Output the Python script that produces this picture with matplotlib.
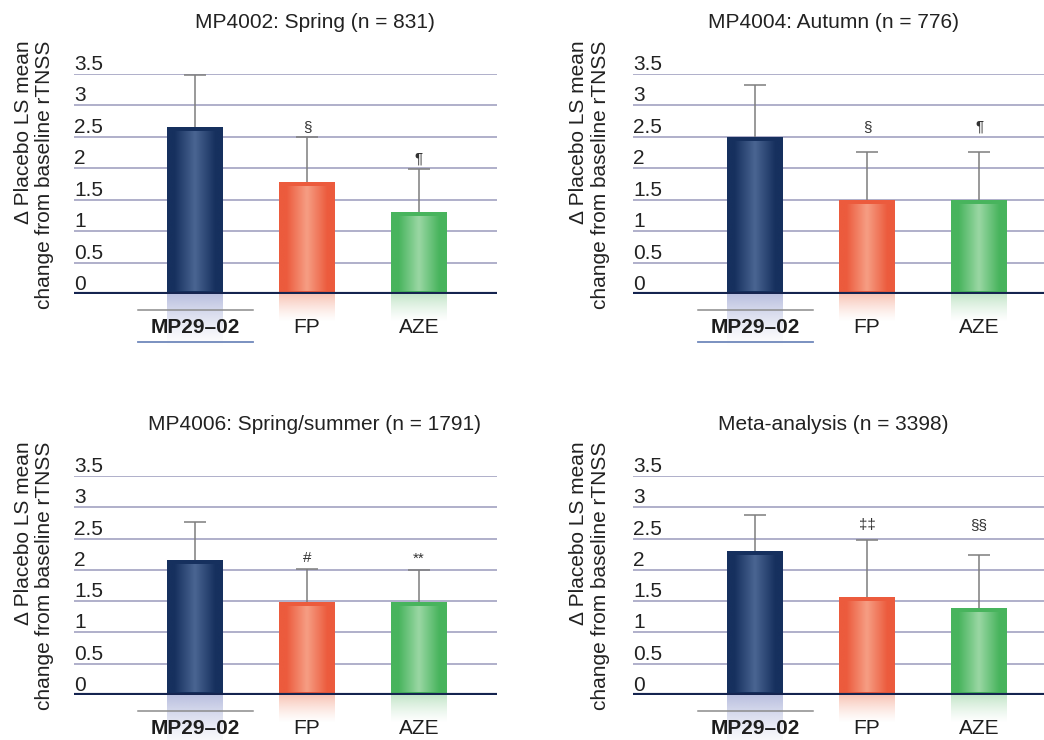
import matplotlib
matplotlib.use("Agg")
import matplotlib.pyplot as plt
import numpy as np
from matplotlib.colors import LinearSegmentedColormap, to_rgb

plt.rcParams["font.family"] = ["Liberation Sans", "DejaVu Sans"]

# data
titles = [
    "MP4002: Spring (n = 831)",
    "MP4004: Autumn (n = 776)",
    "MP4006: Spring/summer (n = 1791)",
    "Meta-analysis (n = 3398)",
]
categories = ["MP29\u201302", "FP", "AZE"]
mp_vals = [2.66, 2.50, 2.15, 2.30]
fp_vals = [1.78, 1.50, 1.49, 1.57]
aze_vals = [1.30, 1.50, 1.49, 1.39]
mp_err_top = [3.48, 3.32, 2.77, 2.88]
fp_err_top = [2.50, 2.26, 2.01, 2.48]
aze_err_top = [1.99, 2.26, 2.00, 2.24]
fp_marks = ["\u00a7", "\u00a7", "#", "\u2021\u2021"]
aze_marks = ["\u00b6", "\u00b6", "**", "\u00a7\u00a7"]
fp_mark_y = [2.66, 2.66, 2.19, 2.72]
aze_mark_y = [2.16, 2.66, 2.17, 2.72]
y_ticks = [0, 0.5, 1, 1.5, 2, 2.5, 3, 3.5]
y_tick_labels = ["0", "0.5", "1", "1.5", "2", "2.5", "3", "3.5"]
ylabel = "\u0394 Placebo LS mean\nchange from baseline rTNSS"

W, H = 1044, 740
# axes boxes in pixels: left, right, y of 0, y of 3.5
BOXES = [(74, 497, 294, 74), (633, 1044, 294, 74), (74, 497, 695, 476), (633, 1044, 695, 476)]
TITLE_X = [315, 833, 315, 833]
YLABEL_POS = [(34, 175), (590, 175), (34, 576), (590, 576)]
FIRST_BAR_PX = [195, 755, 195, 755]
BAR_STEP_PX = 112

BAR_STYLES = [
    ("#16305e", "#4a6592", "#b9bfdf", 0.85),
    ("#ec5b3d", "#f69e84", "#f8c3b4", 0.45),
    ("#48b45d", "#9ad7a4", "#c2e5c8", 0.45),
]
GRID_COLOR = "#a9a9c6"
BASE_COLOR = "#15244f"
ERR_COLOR = "#7d7d7d"
BAR_WIDTH = 0.5


def gradient_bar(ax, x, h, edge, center):
    cmap = LinearSegmentedColormap.from_list("g", [edge, center, edge])
    t = np.linspace(0, 1, 64)
    g = np.clip((t - 0.1) / 0.8, 0, 1)[None, :]
    ax.bar(x, h, BAR_WIDTH, color=edge, zorder=2)
    top = h - 0.08
    if top > 0.05:
        ax.imshow(g, cmap=cmap, extent=[x - BAR_WIDTH / 2 + 0.02, x + BAR_WIDTH / 2 - 0.02, 0.04, top],
                  aspect="auto", zorder=3, interpolation="bicubic")


def reflection(ax, x, color, depth):
    rgb = to_rgb(color)
    n = 50
    img = np.zeros((n, 2, 4))
    img[..., :3] = rgb
    img[..., 3] = np.linspace(1, 0, n)[:, None] ** 1.3
    ax.imshow(img, extent=[x - BAR_WIDTH / 2, x + BAR_WIDTH / 2, -depth, 0],
              aspect="auto", zorder=1, clip_on=False, interpolation="bilinear")


def draw_panel(fig, k):
    left, right, y0, y35 = BOXES[k]
    ax_w, ax_h = right - left, y0 - y35
    ax = fig.add_axes([left / W, 1 - y0 / H, ax_w / W, ax_h / H])
    x_lo = -(FIRST_BAR_PX[k] - left) / BAR_STEP_PX
    x_hi = (right - FIRST_BAR_PX[k]) / BAR_STEP_PX

    vals = np.array([mp_vals[k], fp_vals[k], aze_vals[k]])
    tops = np.array([mp_err_top[k], fp_err_top[k], aze_err_top[k]])
    xs = np.arange(len(categories))

    for yt in y_ticks[1:]:
        ax.axhline(yt, color=GRID_COLOR, lw=1.3, zorder=0)

    for i, (edge, center, refl, depth) in enumerate(BAR_STYLES):
        gradient_bar(ax, xs[i], vals[i], edge, center)
        reflection(ax, xs[i], refl, depth)

    # upper-only error bars
    ax.vlines(xs, vals, tops, color=ERR_COLOR, lw=1.1, zorder=1.5)
    ax.plot(xs, tops, ls="none", marker="_", markersize=16, markeredgewidth=1.1,
            color=ERR_COLOR, zorder=1.5)
    ax.axhline(0, color=BASE_COLOR, lw=3, zorder=6)

    ax.text(xs[1], fp_mark_y[k], fp_marks[k], ha="center", va="center", fontsize=11, color="#333333")
    ax.text(xs[2], aze_mark_y[k], aze_marks[k], ha="center", va="center", fontsize=11, color="#333333")

    for yt, lab in zip(y_ticks, y_tick_labels):
        ax.annotate(lab, xy=(0, yt), xycoords=("axes fraction", "data"), xytext=(0, 4),
                    textcoords="offset pixels", ha="left", va="baseline", fontsize=15, color="#222222")

    for i, lab in enumerate(categories):
        ax.annotate(lab, xy=(xs[i], 0), xycoords=("data", "axes fraction"), xytext=(0, -34),
                    textcoords="offset pixels", ha="center", va="center", fontsize=15,
                    fontweight="bold" if i == 0 else "normal", color="#1e1e1e", annotation_clip=False)

    xt = ax.get_xaxis_transform()
    ax.plot([xs[0] - 0.51, xs[0] + 0.52], [-16 / ax_h] * 2, color="#8c8c8c", lw=1.1,
            transform=xt, clip_on=False)
    ax.plot([xs[0] - 0.51, xs[0] + 0.52], [-48 / ax_h] * 2, color="#7088bb", lw=1.3,
            transform=xt, clip_on=False)

    ax.text((TITLE_X[k] - left) / ax_w, 1 + 51 / ax_h, titles[k], transform=ax.transAxes,
            ha="center", va="center", fontsize=15, color="#222222")
    lx, ly = YLABEL_POS[k]
    ax.text((lx - left) / ax_w, (y0 - ly) / ax_h, ylabel, transform=ax.transAxes,
            rotation=90, ha="center", va="center", multialignment="right", fontsize=15,
            color="#222222", linespacing=1.2)

    ax.set_xlim(x_lo, x_hi)
    ax.set_ylim(0, 3.5)
    ax.set_xticks([])
    ax.set_yticks([])
    for s in ax.spines.values():
        s.set_visible(False)
    ax.patch.set_alpha(0)
    return ax


def main():
    fig = plt.figure(figsize=(W / 100, H / 100), dpi=100)
    for k in range(len(titles)):
        draw_panel(fig, k)
    fig.savefig("out.png", dpi=100)


if __name__ == "__main__":
    main()
